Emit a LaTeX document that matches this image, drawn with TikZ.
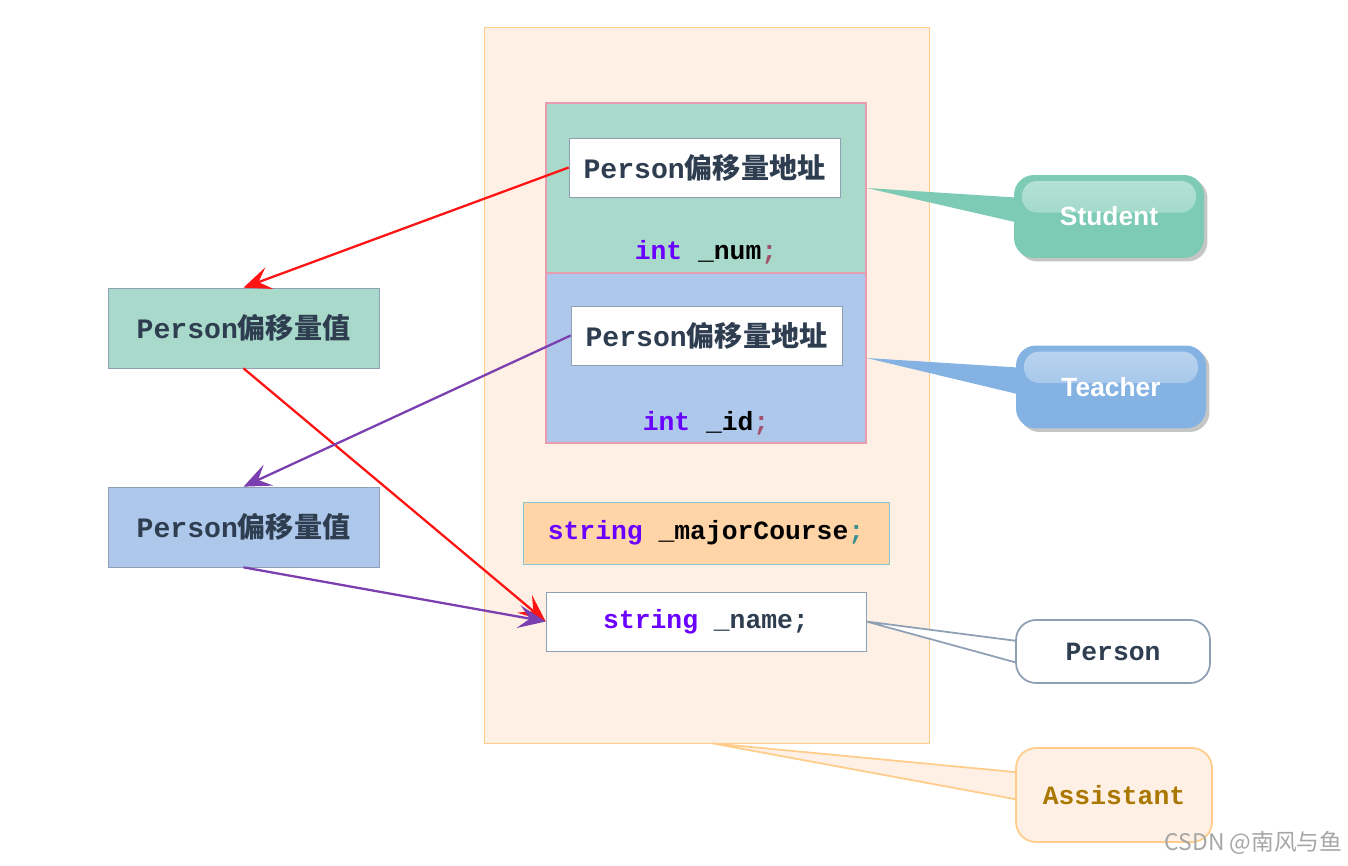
\documentclass[tikz,border=0pt]{standalone}
\usepackage{fontspec}
\setmainfont{Liberation Serif}
\setsansfont{Liberation Sans}
\setmonofont{Liberation Mono}
\newfontfamily\cjk{Noto Sans CJK SC}
\usepackage{xcolor}
\usetikzlibrary{arrows.meta,shadows}
\definecolor{asFill}{HTML}{FFF0E5}
\definecolor{asLine}{HTML}{FFCC8A}
\definecolor{stuFill}{HTML}{A8D9CA}
\definecolor{teaFill}{HTML}{ADC8EA}
\definecolor{pinkRim}{HTML}{E99BB0}
\definecolor{rim}{HTML}{8FA0B5}
\definecolor{slate}{HTML}{2E3E50}
\definecolor{majFill}{HTML}{FFD5A8}
\definecolor{majLine}{HTML}{8CC4CE}
\definecolor{stuTagCol}{HTML}{7DCBB4}
\definecolor{teaTagCol}{HTML}{84B2E3}
\definecolor{kwCol}{HTML}{6A00FF}
\definecolor{semiCol}{HTML}{A0506A}
\definecolor{semiTeal}{HTML}{3A9090}
\definecolor{asText}{HTML}{AA7700}
\definecolor{redLine}{HTML}{FF1414}
\definecolor{purLine}{HTML}{7B3FB0}
\pgfdeclarelayer{bg}
\pgfdeclarelayer{mid}
\pgfsetlayers{bg,mid,main}
\newcommand{\kw}[1]{\textcolor{kwCol}{#1}}

\begin{document}
\begin{tikzpicture}[x=0.02cm,y=-0.02cm,
  link/.style={-{Stealth[length=5.5mm,width=4.6mm,inset=2.3mm]},line width=1.3pt},
  block/.style={draw=pinkRim,line width=0.8pt,minimum width=6.4cm,minimum height=3.4cm,inner sep=0pt},
  addr/.style={draw=rim,fill=white,minimum width=5.42cm,minimum height=1.18cm,inner sep=0pt,
    text=slate,font=\ttfamily\bfseries\fontsize{16}{19}\selectfont},
  valbox/.style={draw=rim,minimum width=5.42cm,minimum height=1.6cm,inner sep=0pt,
    text=slate,font=\ttfamily\bfseries\fontsize{16}{19}\selectfont},
  code/.style={inner sep=0pt,font=\ttfamily\bfseries\fontsize{15}{18}\selectfont},
  gloss/.style={path picture={\shade[rounded corners=0.3cm,top color=white!45!#1,bottom color=white!10!#1]
    ([xshift=0.16cm,yshift=-0.12cm]path picture bounding box.north west) rectangle
    ([xshift=-0.16cm,yshift=0.08cm]path picture bounding box.east);}},
  tag/.style={rounded corners=0.4cm,fill=#1,gloss=#1,minimum width=3.8cm,minimum height=1.66cm,
    text=white,font=\sffamily\bfseries\fontsize{15}{18}\selectfont,
    drop shadow={shadow xshift=0.07cm,shadow yshift=-0.07cm,fill=black!45,opacity=0.5}},
  plaintag/.style={rounded corners=0.4cm,line width=1pt,
    font=\ttfamily\bfseries\fontsize{15}{18}\selectfont}]
  \path[use as bounding box] (0,0) rectangle (1348,865);

  % Assistant object
  \begin{pgfonlayer}{bg}
    \node[draw=asLine,fill=asFill,minimum width=8.9cm,minimum height=14.32cm] (asst) at (706.5,385) {};
  \end{pgfonlayer}

  % Student and Teacher parts
  \node[block,fill=stuFill] (stu) at (706,188) {};
  \node[block,fill=teaFill] (tea) at (706,358) {};
  \node[addr] (stuAddr) at (704.5,167.5) {Person{\cjk 偏移量地址}};
  \node[addr] (teaAddr) at (706.5,335.5) {Person{\cjk 偏移量地址}};
  \node[code] (numTxt) at (706,252) {\kw{int} \_num\textcolor{semiCol}{;}};
  \node[code] (idTxt) at (706,423) {\kw{int} \_id\textcolor{semiCol}{;}};

  % Assistant and Person members
  \node[code,draw=majLine,fill=majFill,minimum width=7.32cm,minimum height=1.24cm] (major) at (706,533)
    {\kw{string} \_majorCourse\textcolor{semiTeal}{;}};
  \node[code,draw=rim,fill=white,minimum width=6.4cm,minimum height=1.18cm,text=slate] (name) at (706,621.5)
    {\kw{string} \_name;};

  % offset tables
  \node[valbox,fill=stuFill] (valStu) at (243.5,328) {Person{\cjk 偏移量值}};
  \node[valbox,fill=teaFill] (valTea) at (243.5,527) {Person{\cjk 偏移量值}};

  \draw[link,redLine] (stuAddr.west) -- (valStu.north);
  \draw[link,redLine] (valStu.south) -- (name.west);
  \draw[link,purLine] (teaAddr.west) -- (valTea.north);
  \draw[link,purLine] (valTea.south) -- (name.west);

  % callouts
  \node[tag=stuTagCol] (stuTag) at (1109,216.5) {Student};
  \node[tag=teaTagCol] (teaTag) at (1111,387) {Teacher};
  \node[plaintag,draw=rim,fill=white,text=slate,minimum width=3.88cm,minimum height=1.26cm] (perTag) at (1113,651.5) {Person};
  \node[plaintag,draw=asLine,fill=asFill,text=asText,minimum width=3.92cm,minimum height=1.88cm] (asTag) at (1114,795) {Assistant};

  \begin{pgfonlayer}{mid}
    \fill[stuTagCol] (stu.east) -- ([xshift=2mm,yshift=0.37cm]stuTag.west) -- ([xshift=2mm,yshift=-0.15cm]stuTag.west) -- cycle;
    \fill[teaTagCol] (tea.east) -- ([xshift=2mm,yshift=0.38cm]teaTag.west) -- ([xshift=2mm,yshift=-0.18cm]teaTag.west) -- cycle;
    \filldraw[fill=white,draw=rim,line width=1pt] (name.east) -- ([xshift=2mm,yshift=0.19cm]perTag.west) -- ([xshift=2mm,yshift=-0.27cm]perTag.west) -- cycle;
    \filldraw[fill=asFill,draw=asLine,line width=1pt] ([xshift=0.11cm]asst.south) -- ([xshift=2mm,yshift=0.44cm]asTag.west) -- ([xshift=2mm,yshift=-0.12cm]asTag.west) -- cycle;
  \end{pgfonlayer}

  \node[anchor=east,inner sep=0pt,text=black!35,font=\cjk\fontsize{13}{15}\selectfont] (mark) at (1343,843) {CSDN @南风与鱼};
\end{tikzpicture}
\end{document}
